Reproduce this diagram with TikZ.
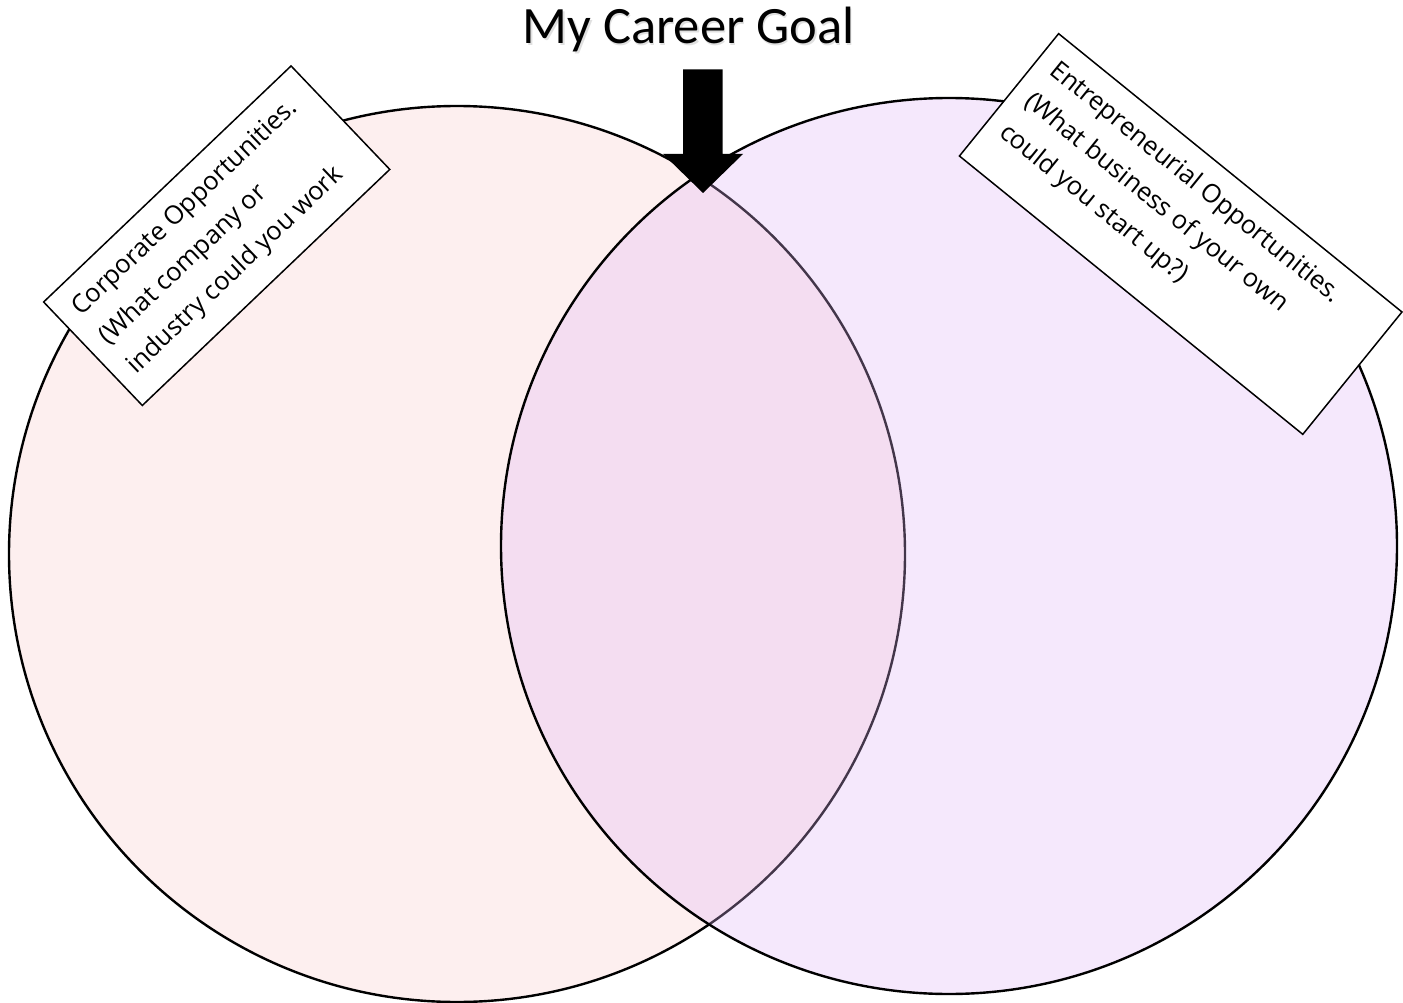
\documentclass[tikz,border=0pt]{standalone}
\usepackage{fontspec}
\setmainfont{Carlito}
\newfontfamily\boxfont{Open Sans}
\definecolor{corpfill}{RGB}{253,239,239}
\definecolor{entrefill}{RGB}{225,182,248}
\tikzset{
  vennset/.style={circle, draw=black, line width=2.4pt, minimum size=896pt, inner sep=0pt},
  labelbox/.style={draw=black, fill=white, line width=1.5pt, inner sep=0pt},
  titletext/.style={anchor=base, font=\fontsize{52.5pt}{60pt}\selectfont, inner sep=0pt},
}
\begin{document}
\begin{tikzpicture}[x=1pt,y=-1pt]
\fill[white] (0,0) rectangle (1403,1003);
\useasboundingbox (0,0) rectangle (1403,1003);
% circles
\node[vennset, fill=corpfill] (corpset) at (457,554) {};
\node[vennset, fill=entrefill, fill opacity=0.3] (entreset) at (949,546) {};
% label boxes
\node[labelbox, rotate=43.65, minimum width=342pt, minimum height=143pt] (corpbox) at (216.7,235.7)
  {\parbox[c][143pt][t]{308pt}{\boxfont\fontsize{25.6pt}{40pt}\selectfont\raggedright\rule{0pt}{36.6pt}Corporate Opportunities.\\(What company or\\industry could you work}};
\node[labelbox, rotate=-39.03, minimum width=442pt, minimum height=157.5pt] (entrebox) at (1180.7,234)
  {\parbox[c][157.5pt][t]{408pt}{\boxfont\fontsize{25.6pt}{40pt}\selectfont\raggedright\rule{0pt}{37pt}Entrepreneurial Opportunities.\\(What business of your own\\could you start up?)}};
% title with faint shadow
\node[titletext, text=black, opacity=0.12] (titleshadow) at (690,45.5) {My Career Goal};
\node[titletext] (title) at (688.5,44) {My Career Goal};
% block arrow
\coordinate (tip) at (703,193);
\fill[black] (683,69.3) -- (722.7,69.3) -- (722.7,154) -- (743,154) -- (tip) -- (663,154) -- (683,154) -- cycle;
\end{tikzpicture}
\end{document}
